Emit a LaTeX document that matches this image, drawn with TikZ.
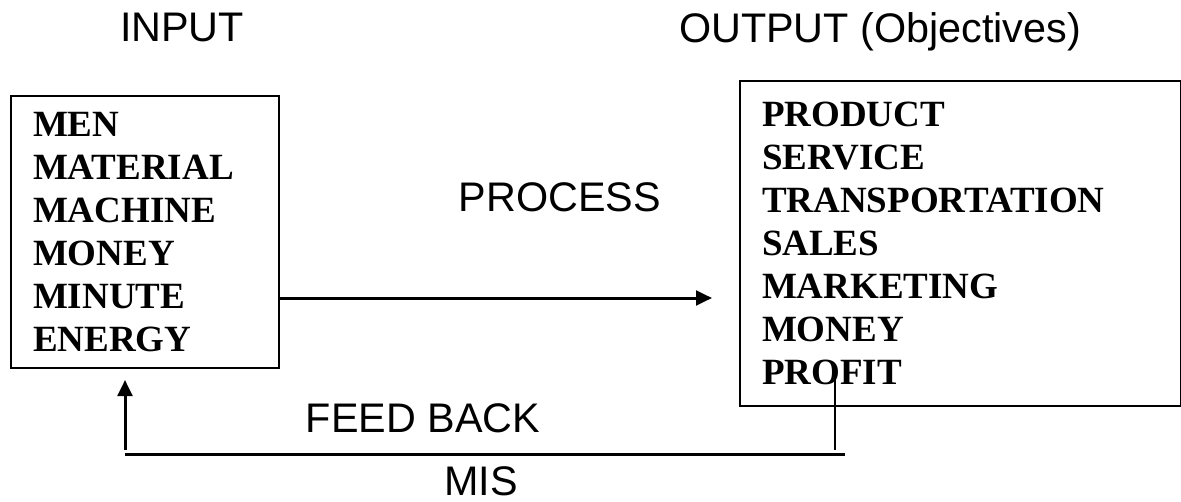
\documentclass[tikz,border=0pt]{standalone}
\usepackage{fontspec}
\setmainfont{Liberation Serif}
\newfontfamily\headfont{Liberation Sans}
\usetikzlibrary{arrows.meta}

\begin{document}
\begin{tikzpicture}[x=0.75pt,y=0.75pt,yscale=-1,xscale=1,
  listbox/.style={draw, line width=1.5pt, rectangle, anchor=north west, align=left, inner xsep=16.5pt, font=\fontsize{27.75}{32.25}\selectfont\bfseries},
  heading/.style={anchor=base, inner sep=0pt, font=\headfont\fontsize{31}{36}\selectfont},
  flow/.style={line width=2.25pt, -{Triangle[length=12pt,width=11pt]}},
  wire/.style={line width=2.25pt}]
\useasboundingbox (0,0) rectangle (1181,502);

%Input box
\node[listbox, text width=168pt, minimum width=201pt, minimum height=204pt] (inbox) at (10,95) {MEN\\MATERIAL\\MACHINE\\MONEY\\MINUTE\\ENERGY};
%Output box
\node[listbox, text width=297.75pt, minimum width=330.75pt, minimum height=243.75pt] (outbox) at (739,80) {PRODUCT\\SERVICE\\TRANSPORTATION\\SALES\\MARKETING\\MONEY\\PROFIT};

%Headings
\node[heading] (intitle) at (182,42) {INPUT};
\node[heading] (outtitle) at (880,43) {OUTPUT (Objectives)};
\node[heading] (proc) at (560,212) {PROCESS};
\node[heading] (fb) at (423,432) {FEED BACK};
\node[heading] (mis) at (481,495) {MIS};

%Process arrow
\draw[flow, shorten >=20.25pt] (inbox.east |- 0,298) -- (outbox.west |- 0,298);

%Feed back loop
\coordinate (fbtop) at (835,378);
\coordinate (fbleft) at (125,454);
\coordinate (fbright) at (845,454);
\draw[line width=1.9pt, shorten >=3pt] (fbtop) -- (fbtop |- fbleft);
\draw[wire] (fbleft) -- (fbright);
\draw[flow, shorten <=3pt, shorten >=8.25pt] (fbleft) -- (fbleft |- inbox.south);
\end{tikzpicture}
\end{document}
